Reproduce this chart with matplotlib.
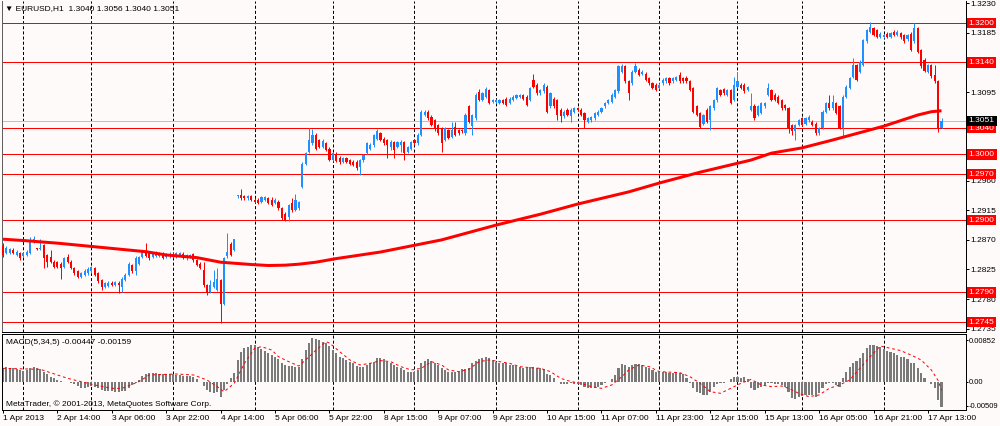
import matplotlib
matplotlib.use("Agg")
import matplotlib.pyplot as plt
import matplotlib.transforms as mtransforms
import numpy as np

plt.rcParams['font.family'] = ['Liberation Sans', 'DejaVu Sans']
plt.rcParams['lines.scale_dashes'] = False

# ---------------- data (prices in pips above BASE) ----------------
BASE = 1.2700
PIP = 0.0001

open_pips = [
    160, 150, 150, 155, 147, 150, 146, 147, 150, 167,
    157, 156, 162, 147, 144, 137, 136, 134, 129, 144,
    137, 127, 122, 114, 117, 119, 122, 127, 119, 109,
    99, 100, 105, 102, 105, 99, 109, 117, 132, 122,
    134, 144, 153, 150, 144, 146, 146, 150, 144, 145,
    149, 144, 147, 149, 143, 144, 148, 139, 134, 124,
    101, 91, 99, 94, 109, 73, 145, 164, 155, 236,
    238, 236, 233, 236, 231, 231, 228, 231, 233, 231,
    226, 228, 218, 210, 205, 226, 216, 218, 251, 286,
    304, 317, 330, 322, 312, 317, 309, 292, 300, 295,
    289, 294, 291, 289, 289, 281, 291, 302, 309, 314,
    324, 332, 324, 322, 312, 319, 312, 314, 319, 304,
    309, 322, 317, 330, 360, 365, 357, 352, 345, 340,
    322, 337, 327, 342, 337, 337, 332, 373, 343, 355,
    395, 383, 388, 398, 380, 380, 378, 383, 385, 378,
    383, 386, 388, 390, 388, 383, 413, 406, 393, 396,
    403, 373, 385, 383, 368, 358, 368, 358, 365, 370,
    368, 363, 350, 352, 355, 360, 365, 373, 378, 380,
    388, 396, 426, 434, 411, 408, 426, 429, 423, 423,
    416, 408, 406, 401, 408, 411, 416, 411, 413, 421,
    416, 417, 411, 401, 373, 363, 347, 368, 352, 370,
    383, 398, 399, 391, 398, 383, 403, 406, 406, 398,
    368, 374, 360, 363, 373, 391, 398, 391, 388, 383,
    375, 370, 345, 335, 345, 355, 347, 352, 350, 347,
    332, 340, 365, 378, 370, 378, 373, 340, 388, 401,
    418, 436, 426, 436, 472, 487, 492, 489, 479, 479,
    484, 479, 487, 482, 485, 482, 475, 484, 472, 492,
    459, 444, 426, 436, 421, 411, 340]

high_pips = [
    165, 160, 158, 157, 154, 152, 152, 154, 175, 176,
    158, 172, 164, 149, 155, 139, 138, 136, 144, 149,
    139, 129, 124, 121, 125, 128, 130, 129, 121, 111,
    106, 107, 107, 108, 107, 113, 119, 136, 134, 145,
    146, 155, 165, 152, 152, 153, 152, 152, 150, 151,
    151, 152, 152, 151, 149, 149, 150, 141, 137, 137,
    103, 109, 124, 127, 111, 144, 180, 167, 172, 239,
    248, 238, 238, 238, 233, 233, 237, 237, 235, 235,
    233, 230, 220, 212, 225, 233, 240, 229, 288, 304,
    340, 338, 332, 324, 323, 319, 311, 304, 303, 297,
    296, 296, 293, 291, 291, 293, 301, 319, 317, 331,
    338, 334, 326, 324, 322, 321, 321, 322, 321, 313,
    321, 324, 332, 368, 367, 367, 360, 354, 347, 342,
    342, 339, 350, 350, 339, 339, 363, 375, 362, 393,
    399, 395, 402, 400, 385, 385, 385, 385, 387, 387,
    390, 392, 392, 392, 390, 403, 422, 408, 400, 409,
    405, 395, 387, 385, 370, 367, 370, 370, 372, 372,
    370, 365, 357, 359, 365, 367, 372, 380, 385, 393,
    400, 436, 438, 436, 413, 428, 439, 431, 428, 425,
    418, 410, 408, 408, 416, 418, 418, 418, 420, 426,
    418, 419, 413, 403, 375, 365, 362, 370, 375, 385,
    403, 400, 401, 400, 400, 418, 426, 408, 408, 404,
    393, 376, 375, 380, 380, 408, 400, 393, 390, 385,
    377, 372, 347, 347, 354, 357, 357, 360, 352, 349,
    342, 367, 380, 390, 391, 380, 375, 390, 405, 418,
    446, 438, 443, 476, 491, 502, 494, 491, 486, 484,
    486, 487, 489, 489, 487, 484, 484, 486, 500, 494,
    461, 446, 438, 438, 436, 413, 356]

low_pips = [
    144, 148, 148, 149, 146, 140, 144, 146, 148, 165,
    155, 155, 127, 129, 135, 127, 127, 111, 127, 135,
    125, 117, 112, 112, 115, 117, 120, 115, 105, 93,
    97, 98, 100, 100, 89, 90, 107, 115, 120, 116,
    132, 142, 144, 140, 142, 144, 144, 141, 142, 143,
    142, 142, 145, 141, 139, 142, 137, 130, 125, 99,
    86, 89, 97, 92, 43, 71, 143, 145, 153, 234,
    231, 231, 231, 229, 226, 224, 226, 229, 224, 221,
    224, 216, 200, 198, 199, 213, 214, 216, 249, 284,
    302, 315, 307, 310, 310, 305, 290, 290, 288, 286,
    287, 287, 284, 282, 276, 269, 289, 300, 307, 312,
    322, 320, 315, 294, 307, 294, 310, 304, 291, 302,
    307, 315, 315, 328, 358, 353, 343, 335, 330, 304,
    320, 323, 325, 328, 330, 333, 330, 348, 330, 353,
    381, 381, 386, 376, 378, 378, 376, 376, 373, 376,
    381, 384, 386, 383, 373, 381, 401, 391, 391, 394,
    363, 371, 371, 352, 350, 356, 358, 350, 363, 366,
    358, 340, 348, 350, 353, 358, 363, 371, 376, 378,
    386, 394, 424, 409, 383, 405, 424, 419, 421, 411,
    406, 399, 396, 399, 406, 409, 406, 409, 411, 409,
    409, 409, 396, 363, 358, 340, 345, 348, 337, 368,
    380, 389, 391, 389, 376, 381, 401, 399, 394, 396,
    366, 353, 358, 361, 371, 389, 381, 381, 376, 368,
    368, 332, 330, 322, 343, 343, 345, 350, 343, 330,
    330, 338, 363, 368, 368, 361, 338, 327, 386, 399,
    416, 411, 424, 434, 470, 485, 480, 477, 477, 477,
    477, 477, 480, 480, 476, 470, 473, 457, 470, 454,
    431, 425, 424, 417, 409, 334, 340]

close_pips = [
    147, 157, 156, 150, 152, 142, 150, 152, 170, 172,
    156, 158, 142, 137, 137, 129, 129, 127, 142, 137,
    127, 119, 114, 119, 123, 126, 128, 117, 107, 99,
    104, 105, 102, 106, 102, 111, 117, 134, 122, 142,
    144, 153, 146, 142, 150, 151, 150, 143, 148, 149,
    144, 150, 150, 143, 147, 147, 139, 132, 127, 101,
    89, 101, 106, 110, 73, 142, 152, 147, 171, 238,
    233, 233, 236, 231, 228, 226, 235, 235, 226, 223,
    231, 218, 204, 200, 223, 215, 231, 227, 286, 302,
    322, 330, 309, 312, 321, 307, 292, 302, 290, 288,
    294, 289, 286, 284, 279, 291, 299, 317, 314, 329,
    335, 322, 317, 314, 319, 307, 319, 319, 302, 311,
    319, 317, 330, 365, 365, 355, 345, 340, 332, 317,
    340, 325, 337, 330, 332, 335, 360, 350, 360, 390,
    383, 393, 400, 378, 383, 383, 383, 378, 375, 385,
    388, 390, 390, 385, 375, 401, 403, 393, 398, 406,
    365, 393, 373, 360, 358, 365, 360, 368, 370, 368,
    360, 352, 355, 357, 363, 365, 370, 378, 383, 391,
    398, 434, 434, 411, 393, 426, 434, 421, 426, 413,
    408, 401, 398, 406, 413, 416, 408, 416, 418, 411,
    411, 411, 398, 365, 360, 342, 360, 350, 373, 383,
    401, 391, 393, 398, 378, 406, 411, 401, 396, 402,
    374, 355, 373, 378, 378, 401, 383, 383, 378, 370,
    370, 340, 335, 345, 352, 345, 355, 357, 345, 332,
    340, 365, 378, 370, 380, 363, 340, 388, 403, 416,
    436, 413, 441, 474, 489, 494, 482, 479, 484, 482,
    479, 485, 482, 487, 478, 472, 482, 459, 492, 456,
    434, 427, 436, 419, 411, 340, 351]

# thick red moving average, read at sample bars
ma_bars = [0, 6, 16, 26, 36, 42, 48, 57, 64, 73, 78, 83, 87, 92, 98, 111, 129,
           145, 158, 169, 184, 193, 205, 220, 226, 235, 244, 259, 269, 273, 276]
ma_pips = [171, 169, 165, 160, 155, 152, 147, 143, 136, 132.5, 131, 131.5, 133,
           136, 141.5, 151.5, 170, 192.5, 209, 224.5, 243, 256.5, 273, 291.5,
           302, 310, 322, 343, 360, 365, 366.5]

# MACD(5,34,5) main values (x 1e-5)
macd_main = [
    237, 255, 249, 237, 219, 208, 196, 208, 237, 267,
    237, 219, 178, 136, 88, 58, 28, 10, 0, -12,
    -31, -43, -79, -109, -109, -91, -79, -91, -121, -151,
    -163, -163, -169, -181, -181, -169, -163, -121, -61, -19,
    28, 100, 136, 148, 148, 148, 136, 136, 130, 130,
    130, 118, 118, 106, 100, 100, 76, 40, 0, -79,
    -151, -181, -198, -181, -270, -151, -43, 58, 148, 387,
    524, 596, 625, 655, 655, 613, 578, 554, 506, 476,
    446, 399, 339, 297, 279, 279, 267, 267, 399, 566,
    685, 775, 757, 745, 715, 697, 640, 566, 506, 446,
    416, 387, 357, 327, 279, 267, 267, 297, 327, 357,
    416, 416, 399, 357, 327, 297, 267, 237, 208, 178,
    178, 178, 208, 327, 375, 399, 375, 339, 297, 237,
    208, 178, 178, 178, 178, 219, 219, 237, 339, 375,
    399, 416, 446, 416, 387, 357, 339, 327, 327, 297,
    297, 279, 267, 237, 237, 267, 267, 237, 237, 219,
    136, 118, 58, 0, -43, -49, -43, -31, -43, -43,
    -61, -91, -121, -121, -109, -91, -61, -31, 0, 40,
    118, 237, 315, 297, 255, 297, 315, 315, 297, 267,
    237, 208, 178, 166, 166, 166, 160, 160, 166, 160,
    136, 58, -19, -121, -181, -210, -240, -240, -181, -91,
    -43, -31, -19, 0, 40, 88, 76, 58, 76, 40,
    -121, -151, -121, -91, -61, -31, -31, -43, -43, -61,
    -91, -181, -300, -318, -282, -258, -240, -240, -240, -270,
    -210, -121, -43, -31, -19, -61, -91, 58, 178, 267,
    327, 375, 416, 518, 596, 655, 661, 637, 613, 578,
    554, 524, 506, 476, 446, 434, 399, 339, 339, 237,
    148, 58, 0, -43, -121, -330, -447]

signal_bars = [0, 11, 19, 27, 32, 35, 40, 43, 51, 56, 60, 63, 65, 68, 71, 74, 76,
               79, 81, 84, 87, 89, 92, 95, 96, 99, 102, 105, 108, 111, 114, 117,
               120, 123, 126, 129, 131, 134, 137, 140, 143, 146, 149, 152, 155,
               158, 161, 164, 167, 170, 173, 176, 179, 182, 184, 187, 190, 193,
               199, 202, 205, 208, 211, 214, 217, 220, 223, 226, 229, 231, 234,
               237, 240, 243, 246, 249, 252, 255, 258, 261, 264, 267, 270, 273,
               275, 276]
signal_vals = [237, 219, 58, -61, -121, -121, 0, 118, 136, 118, 28, -91, -181,
               -31, 327, 596, 625, 566, 446, 357, 279, 387, 560, 715, 690, 536,
               387, 297, 327, 375, 357, 267, 208, 237, 357, 297, 208, 178, 219,
               357, 387, 357, 327, 267, 249, 237, 178, 58, 0, -31, -91, -121, -61,
               88, 208, 297, 267, 178, 160, 88, -31, -181, -210, -121, -31, 40,
               -61, -91, -79, -121, -210, -270, -240, -121, -61, 28, 237, 446,
               637, 596, 554, 476, 387, 208, 20, -159]

levels = [1.3200, 1.3140, 1.3040, 1.3000, 1.2970, 1.2900, 1.2790, 1.2745]
current_price = 1.3051
price_ticks = [1.3230, 1.3185, 1.3140, 1.3095, 1.3050, 1.3005, 1.2960, 1.2915,
               1.2870, 1.2825, 1.2780, 1.2735]
hidden_ticks = [1.3140, 1.3050, 1.3005]   # fully covered by the level boxes
grid_bars = [6, 26, 50, 74, 97, 121, 145, 169, 193, 216, 235, 259]
date_labels = ["1 Apr 2013", "2 Apr 14:00", "3 Apr 06:00", "3 Apr 22:00",
               "4 Apr 14:00", "5 Apr 06:00", "5 Apr 22:00", "8 Apr 15:00",
               "9 Apr 07:00", "9 Apr 23:00", "10 Apr 15:00", "11 Apr 07:00",
               "11 Apr 23:00", "12 Apr 15:00", "15 Apr 13:00", "16 Apr 05:00",
               "16 Apr 21:00", "17 Apr 13:00"]
LABEL_EVERY = 16
macd_labels = ["0.00852", "0.00", "-0.00509"]
macd_label_pos = [0.00736, 0.0, -0.00432]
MACD_MAX, MACD_MIN = 0.00852, -0.00509
header = "\u25BC EURUSD,H1  1.3040 1.3056 1.3040 1.3051"
macd_title = "MACD(5,34,5) -0.00447 -0.00159"
copyright_txt = "MetaTrader, \u00A9 2001-2013, MetaQuotes Software Corp."

# ---------------- styling ----------------
BG = "#FFFAFA"
UP = "#1E90FF"
DOWN = "#FF0000"
W, H = 1000, 426
PX = 72.0 / 100.0  # points per pixel

fig = plt.figure(figsize=(W / 100, H / 100), dpi=100, facecolor=BG)
ax = fig.add_axes([2 / W, (H - 332) / H, 964 / W, 331 / H], facecolor=BG)
ax2 = fig.add_axes([2 / W, (H - 410) / H, 964 / W, 76 / H], facecolor=BG, sharex=ax)

o = BASE + np.array(open_pips, dtype=float) * PIP
c = BASE + np.array(close_pips, dtype=float) * PIP
h = np.maximum.reduce([BASE + np.array(high_pips, dtype=float) * PIP, o, c])
l = np.minimum.reduce([BASE + np.array(low_pips, dtype=float) * PIP, o, c])
x = np.arange(len(c))
up = c >= o
cols = np.where(up, UP, DOWN)

# level lines
for lv in levels:
    ax.axhline(lv, color="#FF0000", lw=1.0 * PX, zorder=1)
ax.axhline(current_price, color="#C0C0C0", lw=1.0 * PX, zorder=1)

# grid
for gb in grid_bars:
    for a in (ax, ax2):
        a.axvline(gb, color="#000000", lw=1.0 * PX, ls=(0, (2.2, 1.5)), zorder=0.5)

# candles
ax.vlines(x, l, h, colors=cols, lw=1.0 * PX, zorder=3)
body_h = np.maximum(np.abs(c - o), 0.8 * PIP)
ax.bar(x, body_h, bottom=np.minimum(o, c), width=0.62, color=cols, linewidth=0, zorder=4)

# moving average
ax.plot(ma_bars, BASE + np.array(ma_pips) * PIP, color="#FF0000", lw=3.0 * PX,
        zorder=5, solid_capstyle="butt")

ax.set_xlim(-0.3, 283.2)
ax.set_ylim(1.27298, 1.32335)

# right price axis
ax.yaxis.tick_right()
ax.set_yticks(price_ticks)
ax.set_yticklabels(["" if t in hidden_ticks else f"{t:.4f}" for t in price_ticks])
ax.tick_params(axis="y", direction="out", length=3 * PX, width=1 * PX, pad=1.3,
               labelsize=6, colors="black")
ax.tick_params(axis="x", bottom=False, labelbottom=False)
for side, sp in ax.spines.items():
    sp.set_linewidth(1.0 * PX)
    sp.set_color("black")
ax.spines["top"].set_visible(False)
ax.spines["left"].set_color("#606060")

trans = mtransforms.blended_transform_factory(ax.transAxes, ax.transData)
for lv in levels:
    ax.text(1.0028, lv, f"{lv:.4f}", transform=trans, ha="left", va="center",
            fontsize=6, color="white", clip_on=False, zorder=10,
            bbox=dict(boxstyle="square,pad=0.22", fc="#FF0000", ec="none"))
ax.text(1.0028, current_price, f"{current_price:.4f}", transform=trans, ha="left",
        va="center", fontsize=6, color="white", clip_on=False, zorder=10,
        bbox=dict(boxstyle="square,pad=0.22", fc="#000000", ec="none"))

# MACD panel
ax2.bar(x, np.array(macd_main) * 1e-5, width=0.6, color="#7A7A7A", linewidth=0, zorder=2)
ax2.plot(signal_bars, np.array(signal_vals) * 1e-5, color="#FF0000", lw=1.0 * PX,
         ls=(0, (2, 2)), zorder=3)
ax2.set_ylim(MACD_MIN, MACD_MAX)
ax2.yaxis.tick_right()
ax2.set_yticks(macd_label_pos)
ax2.set_yticklabels(macd_labels)
ax2.tick_params(axis="y", direction="out", length=2 * PX, width=1 * PX, pad=0.6,
                labelsize=5.5)
tick_pos = [LABEL_EVERY * k for k in range(len(date_labels))]
ax2.set_xticks(tick_pos)
ax2.set_xticklabels(date_labels, ha="left")
ax2.tick_params(axis="x", direction="out", length=3 * PX, width=1 * PX, pad=1.5,
                labelsize=6)
for sp in ax2.spines.values():
    sp.set_linewidth(1.0 * PX)
    sp.set_color("black")

fig.text(5 / W, 1 - 9 / H, header, fontsize=6, va="center", ha="left")
fig.text(6 / W, 1 - 343 / H, macd_title, fontsize=6, va="center", ha="left")
fig.text(6 / W, 1 - 404 / H, copyright_txt, fontsize=6, va="center", ha="left")

fig.savefig("out.png", dpi=100, facecolor=BG)
